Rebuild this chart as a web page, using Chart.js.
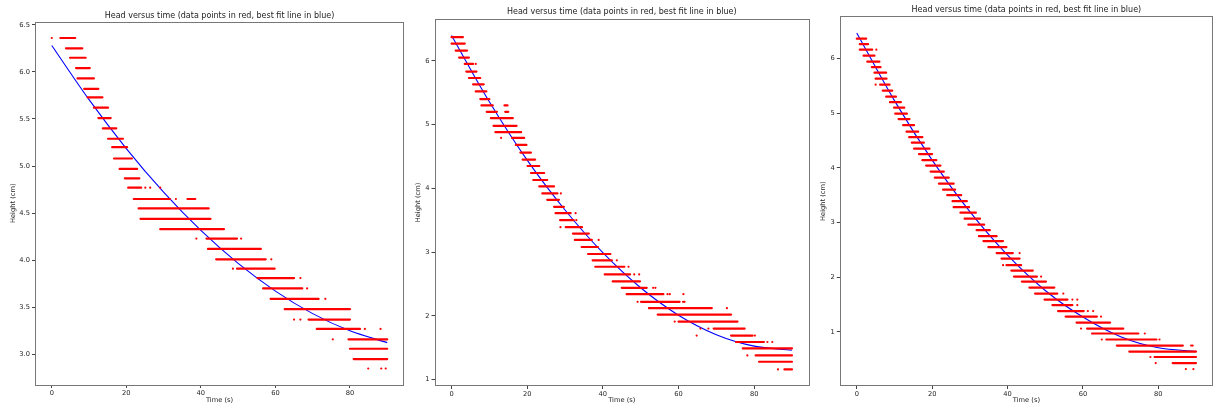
<!DOCTYPE html>
<html>
<head>
<meta charset="utf-8">
<script src="https://cdn.jsdelivr.net/npm/chart.js@4.4.1/dist/chart.umd.min.js"></script>
<style>
  body { margin: 0; background: #fff; width: 1215px; height: 407px; overflow: hidden; position: relative; }
  canvas { position: absolute; top: 0; }
</style>
</head>
<body>
<canvas id="c1" width="408" height="407" style="left:0px"></canvas>
<canvas id="c2" width="405" height="407" style="left:408px"></canvas>
<canvas id="c3" width="404" height="407" style="left:813px"></canvas>
<script>
const titleText = "Head versus time (data points in red, best fit line in blue)";
const timeTicks = [0, 20, 40, 60, 80];
const yTicks1 = [3.0, 3.5, 4.0, 4.5, 5.0, 5.5, 6.0, 6.5];
const yTicks23 = [1, 2, 3, 4, 5, 6];

const fitTimes = [0, 10, 20, 30, 40, 50, 60, 70, 80, 90];
const fit1 = [6.28, 5.705, 5.186, 4.723, 4.316, 3.966, 3.672, 3.433, 3.25, 3.125];
const fit2 = [6.395, 5.357, 4.441, 3.66, 2.99, 2.44, 2.01, 1.705, 1.525, 1.46];
const fit3 = [6.465, 5.228, 4.14, 3.198, 2.403, 1.757, 1.27, 0.91, 0.708, 0.644];

// red data: runs of readings at one height [height, from t, to t]
const bands1 = [
  [6.36, 2.3, 6.3], [6.25, 3.8, 8.2], [6.15, 4.9, 9.1], [6.04, 6.5, 10.2],
  [5.93, 6.9, 11.3], [5.82, 8.7, 12.5], [5.73, 9.6, 13.6], [5.62, 11.3, 15.1],
  [5.51, 12.5, 15.8], [5.40, 13.7, 17.3], [5.29, 15.1, 19.1], [5.20, 16.2, 20.2],
  [5.08, 16.7, 21.5], [4.97, 18.2, 22.9], [4.87, 19.6, 23.5], [4.77, 20.5, 24.0],
  [4.65, 22.0, 31.7], [4.65, 36.4, 38.5], [4.55, 23.3, 42.1], [4.44, 23.8, 42.6],
  [4.33, 29.1, 46.2], [4.23, 41.5, 49.7], [4.12, 41.9, 56.1], [4.01, 44.1, 57.4],
  [3.91, 49.7, 59.8], [3.81, 55.2, 65.0], [3.70, 56.7, 67.2], [3.59, 58.7, 71.6],
  [3.48, 62.5, 80.0], [3.37, 68.9, 80.0], [3.27, 71.1, 82.7], [3.16, 79.6, 90],
  [3.06, 80, 90], [2.95, 81, 90]
];
// isolated readings [t, height]
const dots1 = [
  [0, 6.36], [25.1, 4.77], [26.4, 4.77], [29.1, 4.77], [33.3, 4.65],
  [38.8, 4.23], [50.8, 4.23], [58.9, 4.01], [48.6, 3.91], [66.7, 3.81],
  [68.5, 3.70], [73.4, 3.59], [65, 3.37], [66.7, 3.37], [84, 3.27],
  [88.2, 3.27], [75.4, 3.16], [84.9, 2.85], [88.4, 2.85], [89.6, 2.85]
];

const bands2 = [
  [6.37, 0, 3.0], [6.27, 0, 3.5], [6.16, 1.1, 4.1], [6.05, 2.0, 4.6],
  [5.95, 3.5, 5.7], [5.83, 3.9, 6.6], [5.73, 4.6, 7.6], [5.63, 5.7, 8.5],
  [5.52, 6.4, 9.2], [5.40, 7.6, 10.0], [5.30, 7.9, 10.9], [5.30, 14, 14.8],
  [5.20, 9.3, 12.0], [5.20, 14.2, 15], [5.10, 10.4, 16.2], [4.98, 11.1, 17.2],
  [4.88, 11.6, 18.4], [4.79, 16, 19.2], [4.68, 17, 19.8], [4.56, 18.2, 21],
  [4.45, 18.8, 22.1], [4.35, 20.1, 23.2], [4.24, 21, 24.5], [4.13, 21.6, 25.3],
  [4.03, 23.2, 27.1], [3.92, 24, 28], [3.82, 25.3, 28.4], [3.71, 27.1, 29.7],
  [3.61, 27.5, 31.5], [3.50, 28.7, 32.3], [3.39, 30.2, 34.5], [3.29, 32.1, 36.3],
  [3.19, 32.6, 37.1], [3.08, 34.4, 38.7], [2.97, 36.1, 42], [2.87, 37.3, 42.4],
  [2.77, 38, 45.7], [2.65, 40.5, 47.2], [2.54, 42.6, 49.8], [2.44, 45, 51.6],
  [2.34, 46.3, 56], [2.22, 50.1, 60.3], [2.12, 52.2, 68.8], [2.02, 54.5, 73.9],
  [1.91, 60, 75.6], [1.80, 69.3, 77.5], [1.69, 73.9, 79.6], [1.59, 75.2, 82.6],
  [1.49, 77, 90], [1.38, 80.4, 90], [1.28, 81.3, 90], [1.16, 88, 90]
];
const dots2 = [
  [6.4, 5.95], [13.1, 4.79], [28.9, 3.92], [32.8, 3.61], [33, 3.50],
  [28.8, 3.39], [38.9, 3.19], [43.7, 2.87], [46.8, 2.77], [48.3, 2.65],
  [49.6, 2.65], [53.3, 2.44], [53.9, 2.44], [57.1, 2.34], [57.7, 2.34],
  [61.3, 2.34], [49.2, 2.22], [61.2, 2.22], [61.6, 2.22], [72.8, 2.12],
  [59, 1.91], [65.8, 1.80], [67.9, 1.80], [64.8, 1.69], [80.2, 1.69],
  [83.5, 1.59], [84.8, 1.59], [78.2, 1.38], [86.3, 1.16]
];

const bands3 = [
  [6.36, 0, 2.5], [6.26, 0.8, 3.0], [6.16, 0.8, 4.1], [6.05, 1.8, 4.7],
  [5.94, 2.8, 6.0], [5.84, 4.0, 6.3], [5.74, 4.7, 7.8], [5.63, 5, 7.9],
  [5.52, 6.2, 8.7], [5.41, 6.9, 9.4], [5.30, 7.8, 10.4], [5.20, 8.8, 11.7],
  [5.10, 9.9, 12.6], [4.99, 10.2, 13.3], [4.89, 11.1, 14], [4.78, 12.3, 15.2],
  [4.66, 13.2, 16.3], [4.56, 13.9, 17.4], [4.46, 14.6, 17.8], [4.35, 15.2, 19.3],
  [4.25, 16.5, 20], [4.14, 17.4, 21.1], [4.04, 18.4, 22.2], [3.93, 19.6, 23.1],
  [3.82, 20.7, 24.4], [3.71, 21.8, 25.7], [3.60, 22.9, 26.1], [3.50, 24, 27.7],
  [3.39, 25.4, 29.2], [3.28, 25.7, 29.8], [3.18, 27.5, 31.6], [3.07, 28.6, 32.7],
  [2.96, 29.6, 33.8], [2.86, 31.8, 35.3], [2.75, 32.4, 37.1], [2.66, 33.6, 38.8],
  [2.55, 34.9, 39.7], [2.44, 37.1, 41.4], [2.34, 38.4, 43.2], [2.22, 39.7, 43.6],
  [2.12, 41, 46.7], [2.01, 41.7, 47.8], [1.92, 43.8, 50.2], [1.81, 45.8, 52.4],
  [1.70, 47.3, 53.2], [1.59, 49.8, 55.9], [1.49, 51.9, 57.2], [1.38, 53.4, 60.2],
  [1.28, 55.4, 63.7], [1.17, 58.3, 67.2], [1.06, 61.1, 70.7], [0.97, 62.4, 74.7],
  [0.86, 66.2, 79.5], [0.75, 69, 86.5], [0.64, 72.3, 90], [0.54, 79, 90],
  [0.43, 83.8, 90]
];
const dots3 = [
  [5.2, 6.16], [5.0, 5.52], [43.2, 2.44], [38.8, 2.22], [48.9, 2.01],
  [54.8, 1.70], [57.2, 1.59], [58.5, 1.59], [58.5, 1.49], [61.3, 1.38],
  [62.7, 1.38], [64.8, 1.28], [59.5, 1.06], [76.4, 0.97], [65, 0.86],
  [80.3, 0.86], [88.7, 0.75], [89.1, 0.75], [77.9, 0.54], [79.3, 0.43],
  [87.3, 0.32], [89.3, 0.32]
];

Chart.defaults.font.family = "'DejaVu Sans', sans-serif";
Chart.defaults.font.size = 6.7;
Chart.defaults.color = "#222";

const framePlugin = {
  id: "frame",
  afterDatasetsDraw(chart) {
    const { ctx, chartArea: a } = chart;
    ctx.save();
    ctx.strokeStyle = "#777";
    ctx.lineWidth = 1;
    ctx.strokeRect(Math.round(a.left) + 0.5, Math.round(a.top) + 0.5,
      Math.round(a.right - a.left) - 1, Math.round(a.bottom - a.top) - 1);
    ctx.restore();
  }
};

function bandPoints(bands) {
  const pts = [];
  bands.forEach(([h, t0, t1]) => {
    pts.push({ x: t0, y: h }, { x: t1, y: h }, { x: t1, y: null });
  });
  return pts;
}

function makePanel(id, p) {
  new Chart(document.getElementById(id), {
    type: "scatter",
    data: {
      datasets: [
        {
          data: bandPoints(p.bands),
          showLine: true,
          spanGaps: false,
          borderColor: "#ff0000",
          borderWidth: 2.2,
          borderCapStyle: "round",
          pointRadius: 0
        },
        {
          data: p.dots.map(([t, h]) => ({ x: t, y: h })),
          backgroundColor: "#ff0000",
          borderWidth: 0,
          pointRadius: 1.1
        },
        {
          data: fitTimes.map((t, i) => ({ x: t, y: p.fit[i] })),
          showLine: true,
          borderColor: "#0000ff",
          borderWidth: 1.1,
          cubicInterpolationMode: "monotone",
          pointRadius: 0
        }
      ]
    },
    options: {
      responsive: false,
      animation: false,
      devicePixelRatio: 1,
      layout: { padding: { left: 0, right: p.padRight, top: 0, bottom: 0 } },
      plugins: {
        legend: { display: false },
        tooltip: { enabled: false },
        title: {
          display: true,
          text: titleText,
          fullSize: false,
          color: "#222",
          font: { size: 8, weight: "normal" },
          padding: { top: p.titleTop, bottom: p.titleBottom }
        }
      },
      scales: {
        x: {
          type: "linear",
          min: -4.5,
          max: 94.5,
          afterBuildTicks: (s) => { s.ticks = timeTicks.map((v) => ({ value: v })); },
          afterFit: (s) => { s.height = p.xHeight; },
          border: { display: false },
          grid: { drawOnChartArea: false, drawTicks: true, tickLength: 3, color: "#444" },
          ticks: { padding: 1, maxRotation: 0, callback: (v) => String(v) },
          title: { display: true, text: "Time (s)", padding: { top: 0, bottom: 2.3 } }
        },
        y: {
          type: "linear",
          min: p.yMin,
          max: p.yMax,
          afterBuildTicks: (s) => { s.ticks = p.yTicks.map((v) => ({ value: v })); },
          afterFit: (s) => { s.width = p.yWidth; },
          border: { display: false },
          grid: { drawOnChartArea: false, drawTicks: true, tickLength: 3, color: "#444" },
          ticks: { padding: 2, callback: (v) => v.toFixed(p.decimals) },
          title: { display: true, text: "Height (cm)", padding: { top: p.yTitlePad, bottom: 0 } }
        }
      }
    },
    plugins: [framePlugin]
  });
}

makePanel("c1", {
  bands: bands1, dots: dots1, fit: fit1, yMin: 2.675, yMax: 6.535, yTicks: yTicks1, decimals: 1,
  yWidth: 35, padRight: 1, titleTop: 10.9, titleBottom: 1.0, xHeight: 22, yTitlePad: 9
});
makePanel("c2", {
  bands: bands2, dots: dots2, fit: fit2, yMin: 0.9, yMax: 6.655, yTicks: yTicks23, decimals: 0,
  yWidth: 26.5, padRight: 1, titleTop: 6.9, titleBottom: 2.5, xHeight: 21, yTitlePad: 6.3
});
makePanel("c3", {
  bands: bands3, dots: dots3, fit: fit3, yMin: 0.01, yMax: 6.77, yTicks: yTicks23, decimals: 0,
  yWidth: 26.8, padRight: 0, titleTop: 5.2, titleBottom: 1.5, xHeight: 21, yTitlePad: 6.3
});
</script>
</body>
</html>
